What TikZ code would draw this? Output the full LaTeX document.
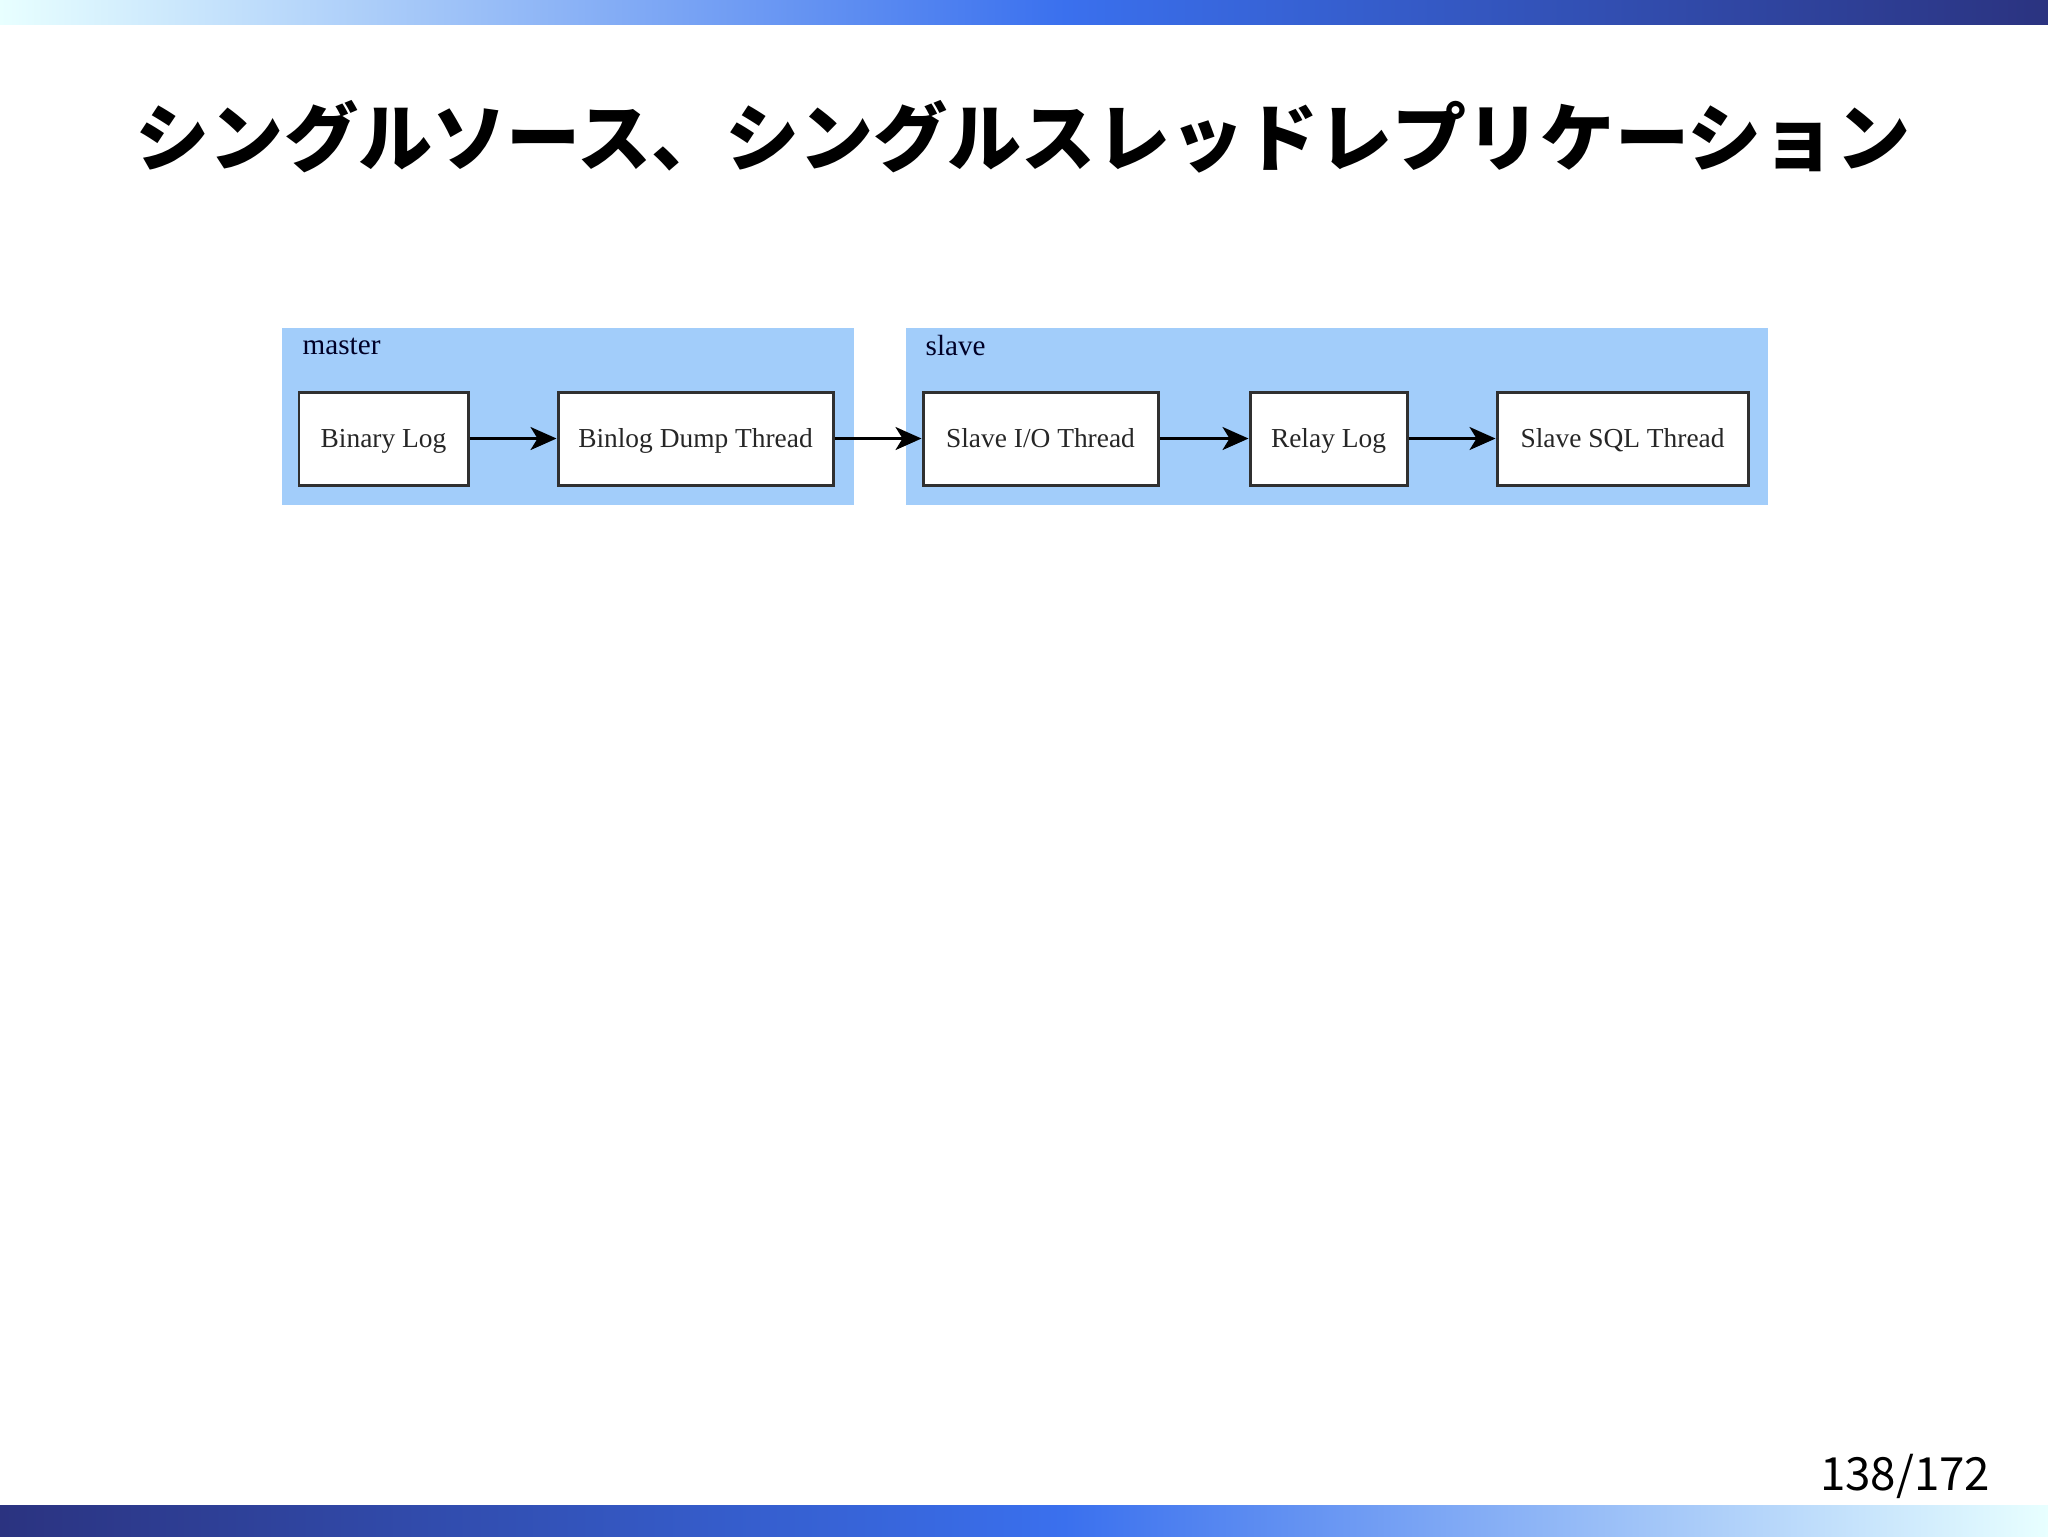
\documentclass[tikz,border=0pt]{standalone}
\usepackage{fontspec}
\setmainfont{Liberation Serif}
\newfontfamily\jp{Noto Sans CJK JP}
\usetikzlibrary{arrows.meta}
\definecolor{barlight}{HTML}{E8FFFF}
\definecolor{barmid}{HTML}{3A70EE}
\definecolor{bardark}{HTML}{2B3380}
\definecolor{clusterfill}{HTML}{A2CDFA}
\definecolor{boxline}{HTML}{303030}
\tikzset{
  cluster/.style={fill=clusterfill, draw=none, inner sep=0pt, anchor=north west},
  clabel/.style={anchor=west, inner sep=0pt, font=\fontsize{8.3pt}{9pt}\selectfont, text=black!85!blue},
  gbox/.style={draw=boxline, fill=white, line width=0.85pt, inner sep=0pt, minimum height=9.3mm, text height=1.55ex, text depth=0.45ex, font=\fontsize{7.8pt}{9pt}\selectfont, text=black!85},
  flow/.style={draw=black, line width=0.7pt, -{Stealth[length=2.6mm,width=2.3mm,inset=0.7mm]}}
}
\begin{document}
\begin{tikzpicture}[x=0.1mm,y=-0.1mm]
\useasboundingbox (0,0) rectangle (2048,1536);
\fill[white] (0,0) rectangle (2048,1536);
% bars
\shade[left color=barlight, right color=barmid] (0,0) rectangle (1065,24);
\shade[left color=barmid, right color=bardark] (1064,0) rectangle (2048,24);
\shade[left color=bardark, right color=barmid] (0,1505) rectangle (1065,1536);
\shade[left color=barmid, right color=barlight] (1064,1505) rectangle (2048,1536);
% title
\node[font=\jp\bfseries\fontsize{21.1pt}{24pt}\selectfont, inner sep=0pt] (title) at (1023,137) {シングルソース、シングルスレッドレプリケーション};
% page number
\node[font=\jp\fontsize{13pt}{15pt}\selectfont, anchor=east, inner sep=0pt] (page) at (1991,1476) {138/172};
% clusters
\node[cluster, minimum width=57.2mm, minimum height=17.7mm] (master) at (281,327) {};
\node[cluster, minimum width=86.2mm, minimum height=17.7mm] (slave) at (905,327) {};
\node[clabel] (masterlbl) at (302,346) {master};
\node[clabel] (slavelbl) at (925,346) {slave};
% boxes
\node[gbox, minimum width=16.9mm] (binlog) at (383.5,438.5) {Binary Log};
\node[gbox, minimum width=27.5mm] (dump) at (695.5,438.5) {Binlog Dump Thread};
\node[gbox, minimum width=23.5mm] (io) at (1040.5,438.5) {Slave I/O Thread};
\node[gbox, minimum width=15.7mm] (relay) at (1328.5,438.5) {Relay Log};
\node[gbox, minimum width=25.1mm] (sql) at (1622.5,438.5) {Slave SQL Thread};
% connectors
\draw[flow] (binlog) -- (dump);
\draw[flow] (dump) -- (io);
\draw[flow] (io) -- (relay);
\draw[flow] (relay) -- (sql);
\end{tikzpicture}
\end{document}
